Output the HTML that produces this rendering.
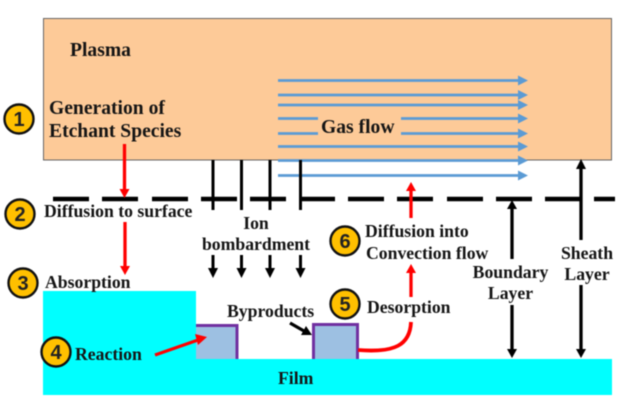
<!DOCTYPE html>
<html><head><meta charset="utf-8"><style>
html,body{margin:0;padding:0;background:#fff;width:624px;height:404px;overflow:hidden}
svg{display:block;filter:blur(.5px)}
text{font-family:"Liberation Serif",serif;font-weight:bold;fill:#151515;font-size:17.700px}
.b{font-size:19.600px}
.n{font-family:"Liberation Sans",sans-serif;font-size:20px;font-weight:bold;text-anchor:middle;fill:#222}
.m{text-anchor:middle}
</style></head><body>
<svg width="624" height="404" viewBox="0 0 624 404" xmlns="http://www.w3.org/2000/svg">
<defs>
<g id="bh"><path d="M0 -5L10 0L0 5Z" fill="#5b9bd5"/></g>
</defs>
<rect x="43.500" y="18.500" width="568" height="141.500" fill="#fdca98" stroke="#666" stroke-width="1"/>
<!-- cyan -->
<rect x="43" y="291" width="153" height="104" fill="#00ffff"/>
<rect x="43" y="359" width="569" height="36" fill="#00ffff"/>
<!-- boxes -->
<rect x="196" y="324" width="42" height="35" fill="#9dc0e2"/>
<path d="M196 325.500H237V359" fill="none" stroke="#7030a0" stroke-width="3"/>
<rect x="313.500" y="324.500" width="44" height="34.500" fill="#9dc0e2"/>
<path d="M313.500 359V324.500H357.500V359" fill="none" stroke="#7030a0" stroke-width="3"/>
<!-- gas arrows -->
<g stroke="#5b9bd5" stroke-width="2.800" fill="none">
<path d="M278 80.500H520M278 95H520M278 105H520M278 118.500H318M401 118.500H520M278 133.500H318M401 133.500H520M278 146.500H520M278 160.500H520M278 175.500H520"/>
</g>
<use href="#bh" x="518" y="80.500"/><use href="#bh" x="518" y="95"/><use href="#bh" x="518" y="105"/><use href="#bh" x="518" y="118.500"/><use href="#bh" x="518" y="133.500"/><use href="#bh" x="518" y="146.500"/><use href="#bh" x="518" y="160.500"/><use href="#bh" x="518" y="175.500"/>
<!-- dashes -->
<path d="M53 199H89M102 199H138M152 199H188M201 199H237M250 199H286M299 199H335M348 199H384M397 199H433M447 199H483M496 199H532M545 199H581M594 199H615" stroke="#000" stroke-width="4.500" fill="none"/>
<!-- ion lines -->
<path d="M213 160V210M241.500 160V210M270 160V210M300.500 160V210" stroke="#000" stroke-width="3" fill="none"/>
<!-- ion arrows -->
<g stroke="#000" stroke-width="3" fill="none"><path d="M213 255V270M241.500 255V270M270 255V270M300.500 255V270"/></g>
<g fill="#000"><path d="M208 268H218L213 278Z"/><path d="M236.500 268H246.500L241.500 278Z"/><path d="M265 268H275L270 278Z"/><path d="M295.500 268H305.500L300.500 278Z"/></g>
<!-- red arrows -->
<g stroke="#ff0000" stroke-width="3.300" fill="none">
<path d="M124.500 144V190"/>
<path d="M125 222V267"/>
<path d="M155 355L198 340"/>
<path d="M411 190V218"/>
<path d="M411 272V297"/>
<path d="M411 322C410 345 395 353 358 350" stroke-width="3.800"/>
</g>
<g fill="#ff0000">
<path d="M119.500 189H129.500L124.500 198Z"/>
<path d="M120 266H130L125 275Z"/>
<path d="M195 334L207 337L198 345Z"/>
<path d="M406 191H416L411 182Z"/>
<path d="M406 273H416L411 264Z"/>
</g>
<!-- boundary & sheath -->
<g stroke="#000" stroke-width="3.300" fill="none">
<path d="M512 208V259M512 305V350M581 168V240M581 285V350"/>
</g>
<g fill="#000">
<path d="M507 209H517L512 200Z"/><path d="M507 349H517L512 358Z"/>
<path d="M576 169H586L581 159Z"/><path d="M576 349H586L581 358Z"/>
</g>
<!-- byproducts arrow -->
<path d="M290 323L304 331" stroke="#000" stroke-width="3.300" fill="none"/>
<path d="M301 335L306 326L312 335Z" fill="#000"/>
<!-- circles -->
<g fill="#ffc000" stroke="#111" stroke-width="2.400">
<circle cx="19" cy="119" r="14.500"/><circle cx="20" cy="214" r="14.500"/><circle cx="23" cy="283" r="14.500"/><circle cx="56" cy="352" r="14.500"/><circle cx="345" cy="304" r="14.500"/><circle cx="345" cy="241" r="14.500"/>
</g>
<text class="n" x="19" y="126">1</text><text class="n" x="20" y="221">2</text><text class="n" x="23" y="290">3</text><text class="n" x="56" y="359">4</text><text class="n" x="345" y="311">5</text><text class="n" x="345" y="248">6</text>
<!-- labels -->
<text class="b" x="70" y="56">Plasma</text>
<text class="b" x="49" y="114">Generation of</text>
<text class="b" x="49" y="137">Etchant Species</text>
<text class="b" x="321" y="133">Gas flow</text>
<text x="44" y="217">Diffusion to surface</text>
<text x="45" y="288">Absorption</text>
<text class="m" x="256" y="229">Ion</text>
<text class="m" x="256" y="250">bombardment</text>
<text x="227" y="317">Byproducts</text>
<text x="75" y="360">Reaction</text>
<text x="278" y="384">Film</text>
<text x="365" y="237">Diffusion into</text>
<text x="366" y="259">Convection flow</text>
<text x="367" y="313">Desorption</text>
<text class="m" x="510.500" y="278">Boundary</text>
<text class="m" x="510.500" y="299">Layer</text>
<text class="m" x="587" y="259">Sheath</text>
<text class="m" x="587" y="280">Layer</text>
</svg>
</body></html>
